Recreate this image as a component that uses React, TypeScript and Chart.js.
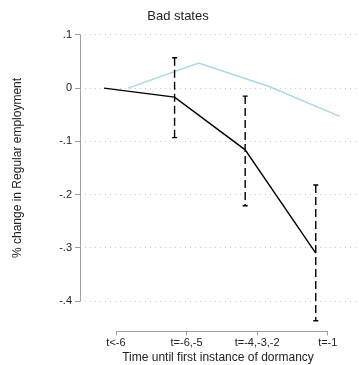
import React, { useEffect, useRef } from "react";
import { Chart, registerables } from "chart.js";
Chart.register(...registerables);

const categories = ["t<-6", "t=-6,-5", "t=-4,-3,-2", "t=-1"];
const regularValues = [0, -0.017, -0.116, -0.31];
const regularLow = [0, -0.093, -0.221, -0.437];
const regularHigh = [0, 0.057, -0.015, -0.182];
const placeboValues = [0, 0.047, 0.003, -0.053];
const yTickValues = [0.1, 0, -0.1, -0.2, -0.3, -0.4];
const yTickLabels = [".1", "0", "-.1", "-.2", "-.3", "-.4"];
const dodge = 0.17;

const FONT = "'Liberation Sans', Arial, sans-serif";

export default function App() {
  const ref = useRef<HTMLCanvasElement>(null);
  useEffect(() => {
    if (!ref.current) return;
    const blackData = regularValues.map((v, i) => ({ x: i - dodge, y: v }));
    const blueData = placeboValues.map((v, i) => ({ x: i + dodge, y: v }));

    const customPlugin = {
      id: "custom",
      afterDatasetsDraw(chart: any) {
        const ctx = chart.ctx;
        const xs = chart.scales.x;
        const ys = chart.scales.y;
        const ca = chart.chartArea;
        ctx.save();
        // error bars
        ctx.strokeStyle = "#000";
        ctx.lineWidth = 1.4;
        for (let i = 1; i < categories.length; i++) {
          const px = xs.getPixelForValue(i - dodge);
          const top = ys.getPixelForValue(regularHigh[i]);
          const bot = ys.getPixelForValue(regularLow[i]);
          ctx.setLineDash([8, 4]);
          ctx.beginPath();
          ctx.moveTo(px, top);
          ctx.lineTo(px, bot);
          ctx.stroke();
          ctx.setLineDash([]);
          ctx.beginPath();
          ctx.moveTo(px - 2.5, top);
          ctx.lineTo(px + 2.5, top);
          ctx.moveTo(px - 2.5, bot);
          ctx.lineTo(px + 2.5, bot);
          ctx.stroke();
        }
        // axis lines
        ctx.strokeStyle = "#a0a0a0";
        ctx.lineWidth = 1;
        const yTop = ys.getPixelForValue(yTickValues[0]);
        const yBot = ys.getPixelForValue(yTickValues[yTickValues.length - 1]);
        const ax = Math.round(ca.left) + 0.5;
        ctx.beginPath();
        ctx.moveTo(ax, yTop);
        ctx.lineTo(ax, yBot);
        ctx.stroke();
        const x0 = xs.getPixelForValue(0);
        const x3 = xs.getPixelForValue(categories.length - 1);
        const ay = Math.round(ca.bottom) + 0.5;
        ctx.beginPath();
        ctx.moveTo(x0, ay);
        ctx.lineTo(x3, ay);
        ctx.stroke();
        // y title
        ctx.fillStyle = "#222";
        ctx.font = `12px ${FONT}`;
        ctx.textAlign = "center";
        ctx.textBaseline = "middle";
        ctx.translate(18, (yTop + yBot) / 2);
        ctx.rotate(-Math.PI / 2);
        ctx.fillText("% change in Regular employment", 0, 0);
        ctx.restore();
      },
    };

    const chart = new Chart(ref.current, {
      type: "line",
      data: {
        datasets: [
          {
            label: "Placebo",
            data: blueData,
            borderColor: "#a9d9e6",
            borderWidth: 1.4,
            pointRadius: 0,
            tension: 0,
          },
          {
            label: "Regular",
            data: blackData,
            borderColor: "#000",
            borderWidth: 1.4,
            pointRadius: 0,
            tension: 0,
          },
        ],
      },
      options: {
        animation: false,
        responsive: false,
        layout: { padding: { left: 0, right: 3, top: 0, bottom: 0 } },
        plugins: {
          legend: { display: false },
          tooltip: { enabled: false },
          title: {
            display: true,
            text: "Bad states",
            color: "#222",
            font: { family: FONT, size: 13, weight: "normal" },
            padding: { top: 9, bottom: 6 },
          },
        },
        scales: {
          x: {
            type: "linear",
            min: -0.51,
            max: 3.4,
            afterBuildTicks: (scale: any) => {
              scale.ticks = categories.map((_, i) => ({ value: i }));
            },
            ticks: {
              callback: (v: any) => categories[v] ?? "",
              color: "#222",
              font: { family: FONT, size: 11 },
              padding: 1,
              maxRotation: 0,
              autoSkip: false,
            },
            grid: {
              display: true,
              drawOnChartArea: false,
              tickLength: 4,
              tickColor: "#a0a0a0",
              color: "#a0a0a0",
            },
            border: { display: false },
            title: {
              display: true,
              text: "Time until first instance of dormancy",
              color: "#222",
              font: { family: FONT, size: 12 },
              padding: { top: 0, bottom: 0 },
            },
          },
          y: {
            type: "linear",
            min: -0.457,
            max: 0.108,
            afterBuildTicks: (scale: any) => {
              scale.ticks = yTickValues.map((v) => ({ value: v }));
            },
            ticks: {
              callback: (v: any) => {
                const i = yTickValues.findIndex((t) => Math.abs(t - v) < 1e-9);
                return i >= 0 ? yTickLabels[i] : "";
              },
              color: "#222",
              font: { family: FONT, size: 11 },
              padding: 3,
            },
            grid: {
              display: true,
              drawOnChartArea: true,
              color: "#c8c8c8",
              borderDash: [1, 4],
              tickLength: 5,
              tickColor: "#a0a0a0",
              tickBorderDash: [],
            } as any,
            border: { display: false, dash: [1, 4] } as any,
            afterFit: (scale: any) => {
              scale.width = 80;
            },
          },
        },
      } as any,
      plugins: [customPlugin],
    });
    return () => chart.destroy();
  }, []);
  return (
    <div style={{ width: 359, height: 365, position: "absolute", left: 0, top: 0 }}>
      <canvas ref={ref} width={359} height={365} />
    </div>
  );
}
